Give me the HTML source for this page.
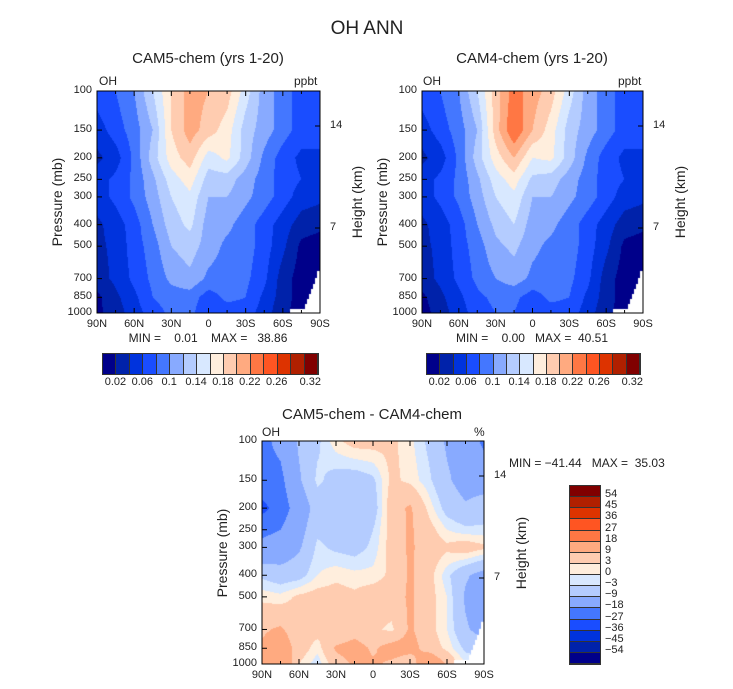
<!DOCTYPE html>
<html><head><meta charset="utf-8"><style>
body{margin:0;background:#fff;width:733px;height:689px;overflow:hidden;position:relative;font-family:"Liberation Sans",sans-serif;color:#222}
.t{position:absolute;white-space:nowrap;font-size:12px}
canvas{position:absolute}
</style></head><body>
<div id="root"></div>
<script>
// ===== data =====
const lats=['90N','75N','60N','45N','30N','15N','0','15S','30S','45S','60S','75S','90S'];
const pressures=[100,150,200,250,300,400,500,700,850,1000];
const cam5=[
[7,8,10,14,18,21,20,19,15,11,9,7,7],
[5,7,9,12,18,21,19,17,13,11,9,7,7],
[3.5,5,8.5,13,17,19,15,16.5,13,9.5,7,5.5,5.5],
[5,6.5,8.5,11.5,15,17,13,13,11,9,7,6,5],
[5,6.5,8.5,11,14,15.5,12,12,10.5,9,7,5,4.5],
[3.5,5,7,10,13,14.5,11,10.5,9,7,5,3,2.5],
[3.5,4.5,7,9,12,13,11,9.5,9,7,4.5,1.5,1],
[3,4.5,6.5,8.5,10.5,11.5,9.5,9,8.5,6.5,3,1,1],
[1.5,3.5,5.5,8,9,9,7,8.5,8,5.5,3,1,1],
[1.5,3,5,7,8.5,8.5,6.5,7,7,5,2.5,1,1]];
const cam4=[
[7,8,10,14,19,23,21,19,15,11,9,7,7],
[5,7,9,12,19,24,20,17,13,11,9,7,7],
[3.5,5,8.5,13,17,20,16,16.5,13,9.5,7,5.5,5.5],
[5,6.5,8.5,11.5,15,17,13.5,13,11,9,7,6,5],
[5,6.5,8.5,11,14,15.5,12,12,10.5,9,7,5,4.5],
[3.5,5,7,10,12.5,14,11,10.5,9,7,5,3,2.5],
[3.5,4.5,7,9,11.5,12.5,10.5,9.5,9,7,4.5,1.5,1],
[3,4.5,6.5,8.5,10,11,9.5,9,8.5,6.5,3,1,1],
[1.5,3.5,5.5,7.5,8.5,8.5,7,8.5,8,5.5,3,1,1],
[1,3,5,7,8,8,6.5,7,7,5,2.5,1,1]];
const diff=[
[-20,-16,-8,-4,2,5,5,4,1,-4,-10,-12,-20],
[-20,-20,-10,-2,-5,-6,-4,4,2,-2,-8,-12,-12],
[-30,-22,-14,-6,-8,-7,-6,6,10,2,-5,-8,-6],
[-20,-18,-12,-4,-6,-7,-3,5,10,5,0,-2,-2],
[-16,-14,-10,-2,-4,-5,-2,5,10,6,4,6,4],
[-4,-6,-5,0,2,1,1,4,10,5,-2,-8,-12],
[2,1,4,5,5,4,6,6,10,5,0,-10,-16],
[8,10,5,5,3,6,4,2,10,5,0,-8,-12],
[10,14,6,1,10,12,8,12,12,6,2,-4,-6],
[14,18,3,-2,6,10,10,8,4,18,8,0,0]];
const levAbs=[2,4,6,8,10,12,14,16,18,20,22,24,26,28,30];
const levDiff=[-54,-45,-36,-27,-18,-9,-3,0,3,9,18,27,36,45,54];
const absLabels=['0.02','0.06','0.1','0.14','0.18','0.22','0.26','0.32'];
const diffLabels=['54','45','36','27','18','9','3','0','\u22123','\u22129','\u221218','\u221227','\u221236','\u221245','\u221254'];
const xTicks=['90N','60N','30N','0','30S','60S','90S'];
const colors=['#00008a','#0022aa','#0033dd','#1a4dff','#4477ff','#88aaff','#b4ccff','#d8e8ff','#ffeedd','#ffccb0','#ffaa80','#ff7744','#ff5522','#dd3300','#b02000','#800000'];

const root=document.getElementById('root');
function txt(s,x,y,opt){const d=document.createElement('div');d.className='t';d.textContent=s;
 d.style.left=x+'px';d.style.top=y+'px';if(opt){for(const k in opt)d.style[k]=opt[k];}
 root.appendChild(d);return d;}
function binOf(v,lev){let i=0;while(i<lev.length&&v>=lev[i])i++;return i;}
const lps=pressures.map(p=>Math.log(p));
function interp(grid,fx,lp){
 let r=0;
 while(r<lps.length-2&&lp>lps[r+1])r++;
 let fy=(lp-lps[r])/(lps[r+1]-lps[r]);fy=Math.max(0,Math.min(1,fy));
 let c=Math.min(11,Math.floor(fx));let tx=fx-c;
 const a=grid[r][c]*(1-tx)+grid[r][c+1]*tx,b=grid[r+1][c]*(1-tx)+grid[r+1][c+1]*tx;
 return a*(1-fy)+b*fy;}
function panel(name,grid,lev,x0,y0,w,h){
 const cv=document.createElement('canvas');cv.width=w;cv.height=h;cv.style.left=x0+'px';cv.style.top=y0+'px';
 
 
 root.appendChild(cv);const ctx=cv.getContext('2d');
 const s=1;
 for(let py=0;py<h;py+=s)for(let px=0;px<w;px+=s){
  const fx=(px+s/2)/w*12;const lp=Math.log(100)+(py+s/2)/h*(Math.log(1000)-Math.log(100));
  ctx.fillStyle=colors[binOf(interp(grid,fx,lp),lev)];ctx.fillRect(px,py,s,s);}
 // terrain mask (Antarctica)
 ctx.fillStyle='#fff';
 const steps=[[3,180],[5,187],[7,193],[9,198],[11,203],[13,208],[15,213],[30,218]];
 steps.forEach(st=>{const ww=st[0];const yy=st[1]/222*h;ctx.fillRect(w-ww,yy,ww,h-yy);});
 const sv=document.createElementNS('http://www.w3.org/2000/svg','svg');
 sv.setAttribute('width',w+60);sv.setAttribute('height',h+20);sv.style.position='absolute';
 sv.style.left=(x0-8)+'px';sv.style.top=(y0-1)+'px';sv.style.overflow='visible';
 let g='<rect x="8" y="1" width="'+w+'" height="'+h+'" fill="none" stroke="#000" stroke-width="1"/>';
 pressures.forEach(p=>{const y=1+Math.log(p/100)/Math.log(10)*h;g+='<line x1="8" x2="13" y1="'+y+'" y2="'+y+'" stroke="#000"/>';});
 for(let i=0;i<=12;i++){const x=8+i/12*w;const L=i%2?3:5;g+='<line x1="'+x+'" x2="'+x+'" y1="'+(h+1)+'" y2="'+(h+1-L)+'" stroke="#000"/><line x1="'+x+'" x2="'+x+'" y1="1" y2="'+(1+L)+'" stroke="#000"/>';}
 [36,138].forEach(y=>{g+='<line x1="'+(w+8)+'" x2="'+(w+3)+'" y1="'+y+'" y2="'+y+'" stroke="#000"/>';});
 sv.innerHTML=g;root.appendChild(sv);
 pressures.forEach(p=>{const y=y0+Math.log(p/100)/Math.log(10)*h;txt(String(p),x0-35,y-7,{width:'30px',textAlign:'right',fontSize:'11px'});});
 xTicks.forEach((t,i)=>{const x=x0+i/6*w;txt(t,x-15,y0+h+5,{width:'30px',textAlign:'center',fontSize:'11px'});});
 txt('14',x0+w+10,y0+28,{fontSize:'11px'});txt('7',x0+w+10,y0+130,{fontSize:'11px'});
 txt('Pressure (mb)',x0-90,y0+h/2-8,{fontSize:'14px',transform:'rotate(-90deg)',width:'100px',textAlign:'center'});
 txt('Height (km)',x0+w-13,y0+h/2-8,{fontSize:'14px',transform:'rotate(-90deg)',width:'100px',textAlign:'center'});
}
function hbar(name,x0,y0,w,h){
 const d=document.createElement('div');
 d.style.cssText='position:absolute;left:'+x0+'px;top:'+y0+'px;width:'+w+'px;height:'+h+'px;display:flex;border:1px solid #333';
 colors.forEach(c=>{const b=document.createElement('div');b.style.cssText='flex:1;background:'+c+';border-right:1px solid #333';d.appendChild(b);});
 root.appendChild(d);
 absLabels.forEach((l,i)=>{const bx=x0+(1+2*i)*w/16;const xx=i==7?x0+15.5*w/16:bx;txt(l,xx-15,y0+h+3,{width:'30px',textAlign:'center',fontSize:'11px'});});
}
txt('OH ANN',317,18,{fontSize:'19px',width:'100px',textAlign:'center'});
txt('CAM5-chem (yrs 1-20)',108,50,{fontSize:'15px',width:'200px',textAlign:'center'});
txt('OH',99,74,{fontSize:'12px'});txt('ppbt',294,74,{fontSize:'12px'});
panel('cam5-contour',cam5,levAbs,97,91,223,222);
txt('MIN =    0.01    MAX =   38.86',108,331,{fontSize:'12px',width:'200px',textAlign:'center',whiteSpace:'pre'});
hbar('cam5-colorbar',102,353,215,20);
txt('CAM4-chem (yrs 1-20)',432,50,{fontSize:'15px',width:'200px',textAlign:'center'});
txt('OH',423,74,{fontSize:'12px'});txt('ppbt',618,74,{fontSize:'12px'});
panel('cam4-contour',cam4,levAbs,422,91,221,222);
txt('MIN =    0.00   MAX =  40.51',432,331,{fontSize:'12px',width:'200px',textAlign:'center',whiteSpace:'pre'});
hbar('cam4-colorbar',426,353,213,20);
txt('CAM5-chem - CAM4-chem',272,406,{fontSize:'15px',width:'200px',textAlign:'center'});
txt('OH',262,425,{fontSize:'12px'});txt('%',474,425,{fontSize:'12px'});
panel('diff-contour',diff,levDiff,262,441,222,223);
txt('MIN = \u221241.44   MAX =  35.03',509,456,{fontSize:'12px',whiteSpace:'pre'});
(function(){const x0=569,y0=485,w=30,h=178;
 const d=document.createElement('div');
 d.style.cssText='position:absolute;left:'+x0+'px;top:'+y0+'px;width:'+w+'px;height:'+h+'px;display:flex;flex-direction:column;border:1px solid #333';
 colors.slice().reverse().forEach(c=>{const b=document.createElement('div');b.style.cssText='flex:1;background:'+c+';border-bottom:1px solid #333';d.appendChild(b);});
 root.appendChild(d);
 diffLabels.forEach((l,i)=>{const y=y0+(i+1)*h/16;txt(l,x0+w+6,y-8,{fontSize:'11px'});});
})();
</script>
</body></html>
